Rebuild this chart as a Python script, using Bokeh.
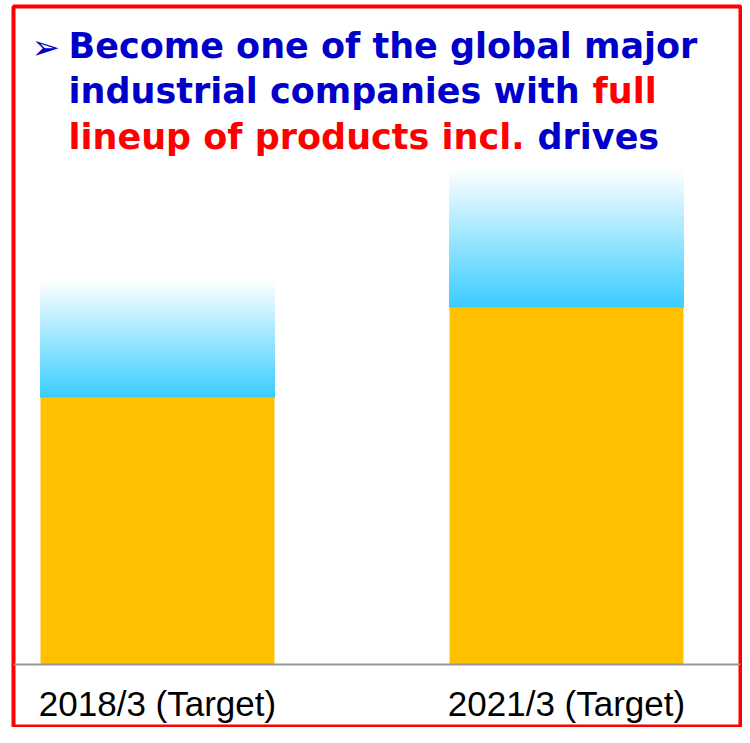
from bokeh.plotting import figure
from bokeh.models import Range1d, FixedTicker
from bokeh.core.properties import value
from bokeh.embed import file_html
from bokeh.resources import INLINE

# ---- data (arbitrary index units) ----
categories = ["2018/3 (Target)", "2021/3 (Target)"]
current_target = [267, 357]     # orange part
upside_target = [389, 501]      # top of the blue gradient band

title_line1 = [("Become one of the global major", "#0000C8")]
title_line2 = [("industrial companies with", "#0000C8"), ("full", "#FF0000")]
title_line3 = [("lineup of products incl.", "#FF0000"), ("drives", "#0000C8")]

# ---- figure ----
W, H = 742, 727
p = figure(width=W, height=H, output_backend="svg", toolbar_location=None,
           x_range=Range1d(-0.35208, 1.42543), y_range=Range1d(-63, 658),
           y_axis_location=None, x_axis_location="below",
           min_border_left=13, min_border_right=2, min_border_top=6, min_border_bottom=0)
p.xgrid.visible = False
p.ygrid.visible = False
p.background_fill_color = "white"
p.border_fill_color = "white"
p.outline_line_color = "#FF0000"
p.outline_line_width = 4

xs = list(range(len(categories)))
bar_w = 0.572

# gradient band (painted from tallest / palest to shortest / strongest)
c0 = (56, 204, 255)
c1 = (255, 255, 255)
N = 80
for i, x in enumerate(xs):
    lo, hi = current_target[i], upside_target[i]
    tops, cols = [], []
    for k in range(N, 0, -1):
        t = k / N
        tops.append(lo + (hi - lo) * t)
        tt = min(1.0, t * 1.03)
        r = int(round(c0[0] + (c1[0] - c0[0]) * tt))
        g = int(round(c0[1] + (c1[1] - c0[1]) * tt))
        b = int(round(c0[2] + (c1[2] - c0[2]) * tt))
        cols.append("#%02x%02x%02x" % (r, g, b))
    p.quad(left=[x - bar_w / 2] * N, right=[x + bar_w / 2] * N,
           bottom=[lo] * N, top=tops, fill_color=cols, line_color=None)

# orange bars
p.vbar(x=xs, top=current_target, bottom=0, width=bar_w,
       fill_color="#FFC000", line_color=None)

# x axis at the bars' base
ax = p.xaxis[0]
ax.fixed_location = 0
ax.ticker = FixedTicker(ticks=xs)
ax.major_label_overrides = {x: c for x, c in zip(xs, categories)}
ax.axis_line_color = "#979797"
ax.axis_line_width = 2
ax.major_tick_line_color = None
ax.minor_tick_line_color = None
ax.major_tick_out = 0
ax.major_tick_in = 0
ax.major_label_standoff = 19
ax.major_label_text_font = "Liberation Sans"
ax.major_label_text_font_size = "35px"
ax.major_label_text_color = "#000000"

# ---- title text ----
def px_x(px):
    # picture pixel -> data x
    return (px - 157) / 409.0

def px_y(py):
    return 664 - py

p.text(x=[px_x(31)], y=[px_y(46)], text=["\u27a2"], text_color="#0000C8",
       text_font=value("DejaVu Sans"), text_font_size=value("34px"),
       text_baseline="alphabetic", text_align="left")

lines = [(title_line1, [68], 45), (title_line2, [68, 592], 90.5),
         (title_line3, [68, 537], 136)]
for pieces, starts, base in lines:
    for (txt, col), sx in zip(pieces, starts):
        p.text(x=[px_x(sx)], y=[px_y(base)], text=[txt], text_color=col,
               text_font=value("DejaVu Sans"), text_font_size=value("35px"),
               text_font_style="bold", text_baseline="alphabetic", text_align="left")

open("out.html", "w").write(file_html(p, INLINE))
